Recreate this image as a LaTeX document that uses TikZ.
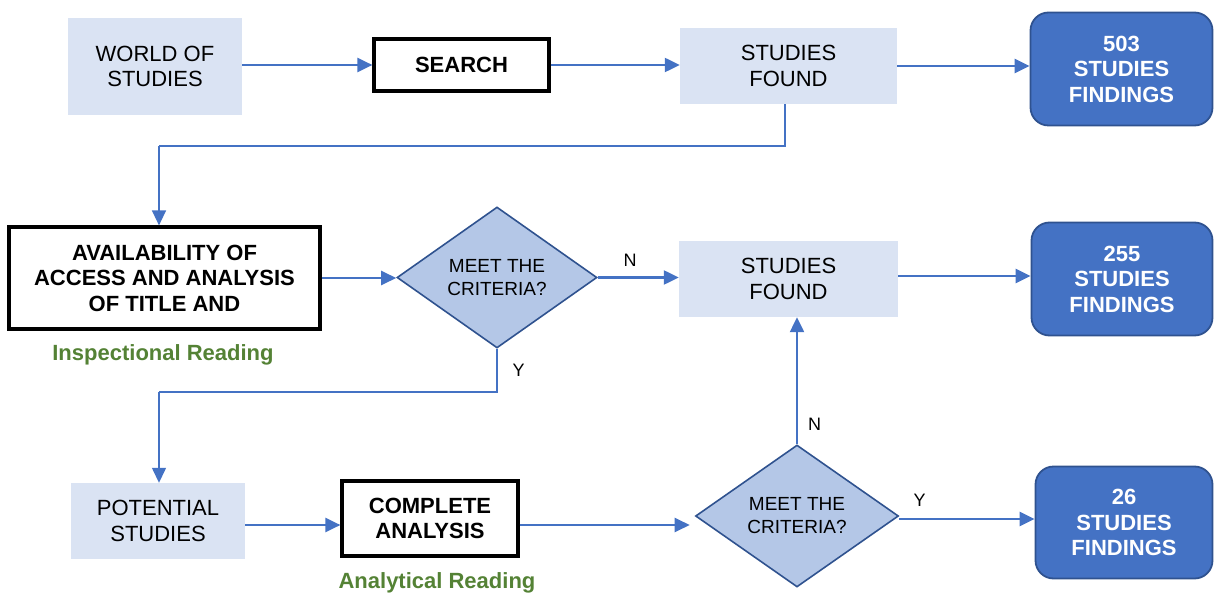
\documentclass[tikz,border=0pt]{standalone}
\usepackage{fontspec}
\setmainfont{Liberation Sans}
\usetikzlibrary{shapes.geometric,arrows.meta}

\definecolor{paleblue}{HTML}{DAE3F3}
\definecolor{diamondblue}{HTML}{B4C7E7}
\definecolor{edgeblue}{HTML}{2F528F}
\definecolor{mainblue}{HTML}{4472C4}
\definecolor{leafgreen}{HTML}{548235}

\tikzset{
  basefont/.style={font=\fontsize{22}{25.5}\selectfont},
  softbox/.style={basefont, fill=paleblue, draw=none, align=center, inner sep=0pt},
  stepbox/.style={font=\fontsize{22}{25.5}\selectfont\bfseries, draw=black, line width=3.2pt, fill=white, align=center, inner sep=0pt},
  resultbox/.style={font=\fontsize{22}{25.5}\selectfont\bfseries, text=white, fill=mainblue, draw=edgeblue, line width=1.8pt, rounded corners=18pt, align=center, inner sep=0pt},
  decision/.style={diamond, aspect=1.42, font=\fontsize{19}{23}\selectfont, fill=diamondblue, draw=edgeblue, line width=1.6pt, align=center, inner sep=0pt},
  phase/.style={font=\fontsize{22}{25.5}\selectfont\bfseries, text=leafgreen, anchor=base, inner sep=0pt},
  lbl/.style={font=\fontsize{18}{20}\selectfont, inner sep=0pt},
  arr/.style={draw=mainblue, line width=2.3pt, -{Triangle[length=15pt,width=14pt]}},
  elbowline/.style={draw=mainblue, line width=1.4pt},
}

\begin{document}
\begin{tikzpicture}[x=1pt, y=-1pt]
\useasboundingbox (0,0) rectangle (1214,593);

% top row
\node[softbox, minimum width=174pt, minimum height=97pt] (world) at (155,66.5) {WORLD OF\\STUDIES};
\node[stepbox, minimum width=175pt, minimum height=52pt] (search) at (461.5,65) {SEARCH};
\node[softbox, minimum width=217pt, minimum height=76pt] (found1) at (788.5,66) {STUDIES\\FOUND};
\node[resultbox, minimum width=182pt, minimum height=113pt] (r503) at (1121.5,69) {503\\STUDIES\\FINDINGS};

% middle row
\node[stepbox, minimum width=311pt, minimum height=102pt] (avail) at (164.5,278) {AVAILABILITY OF\\ACCESS AND ANALYSIS\\OF TITLE AND};
\node[phase] (insp) at (163,360) {Inspectional Reading};
\node[decision, minimum width=200pt, minimum height=141pt] (d1) at (497,277.5) {MEET THE\\CRITERIA?};
\node[softbox, minimum width=219pt, minimum height=76pt] (found2) at (788.5,279) {STUDIES\\FOUND};
\node[resultbox, minimum width=181pt, minimum height=113pt] (r255) at (1122,279) {255\\STUDIES\\FINDINGS};

% bottom row
\node[softbox, minimum width=174pt, minimum height=76pt] (potential) at (158,521) {POTENTIAL\\STUDIES};
\node[stepbox, minimum width=176pt, minimum height=75pt] (complete) at (430,518.5) {COMPLETE\\ANALYSIS};
\node[phase] (anal) at (437,588) {Analytical Reading};
\node[decision, minimum width=203pt, minimum height=142pt] (d2) at (797,516) {MEET THE\\CRITERIA?};
\node[resultbox, minimum width=177pt, minimum height=112pt] (r26) at (1124,522.5) {26\\STUDIES\\FINDINGS};

% elbow points of the routed connectors
\coordinate (k1) at (159,146);
\coordinate (k2) at (159,392);

% connectors
\draw[arr] (world.east |- search.west) -- (search.west);
\draw[arr] (search.east) -- (search.east -| found1.west);
\draw[arr] (found1.east) -- (found1.east -| r503.west);
\draw[elbowline] ([xshift=-3.5pt]found1.south) |- (k1);
\draw[arr, line width=1.4pt] (k1) -- (k1 |- avail.north);

\draw[arr] (avail.east) -- (avail.east -| d1.west);
\draw[arr] (d1.east) -- node[lbl, pos=.4, above=10pt] {N} (d1.east -| found2.west);
\draw[arr] ([yshift=3pt]found2.east) -- ([yshift=3pt]found2.east -| r255.west);
\draw[elbowline] (d1.south) -- node[lbl, right=15pt] {Y} (d1.south |- k2) -- (k2);
\draw[arr, line width=1.4pt] (k2) -- (k2 |- potential.north);

\draw[arr] ([yshift=-4pt]potential.east) -- ([yshift=-4pt]potential.east -| complete.west);
\draw[arr, shorten >=5pt] ([yshift=-6.5pt]complete.east) -- ([yshift=-6.5pt]complete.east -| d2.west);
\draw[arr] (d2.north) -- node[lbl, pos=.16, right=10pt] {N} (d2.north |- found2.south);
\draw[arr] ([yshift=-3pt]d2.east) -- node[lbl, pos=.15, above=11pt] {Y} ([yshift=-3pt]d2.east -| r26.west);
\end{tikzpicture}
\end{document}
